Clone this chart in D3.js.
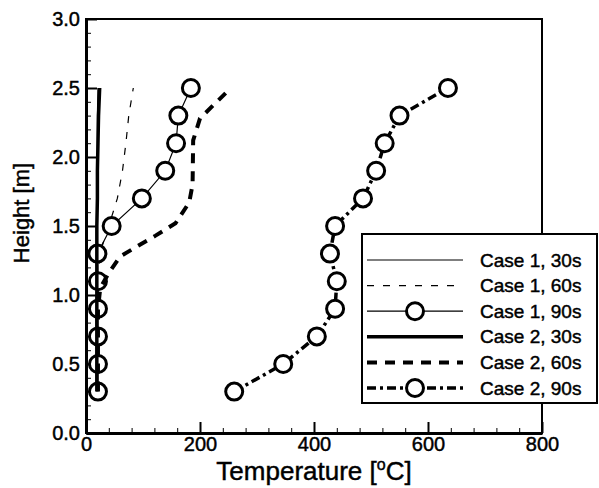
<!DOCTYPE html>
<meta charset="utf-8">
<html>
<head>
<style>
  body { margin: 0; background: #fff; }
  svg text { font-family: "Liberation Sans", Arial, sans-serif; fill: #000; stroke: #000; stroke-width: 0.45px; }
</style>
</head>
<body>
<div id="chart"></div>
<script src="https://d3js.org/d3.v7.min.js"></script>
<script>
// values
let heights = [0.3, 0.5, 0.7, 0.9, 1.1, 1.3, 1.5, 1.7, 1.9, 2.1, 2.3, 2.5];
let case1_30s = [18, 18, 18, 18, 19, 19, 19, 19, 20, 20, 20, 21];
let case1_60s_h = [0.3, 0.9, 1.2, 1.35, 1.5, 1.7, 1.9, 2.1, 2.3, 2.5];
let case1_60s = [20, 20, 22, 28, 40, 55, 64, 70, 75, 83];
let case1_90s = [21, 21, 21, 21, 21, 20, 45, 98, 139, 158, 162, 184];
let case2_30s = [19, 19, 19, 19, 19, 19, 19, 20, 20, 21, 22, 24];
let case2_60s_h = [0.3, 0.9, 1.05, 1.16, 1.28, 1.36, 1.43, 1.52, 1.67, 1.8, 2.12, 2.28, 2.5];
let case2_60s = [21, 21, 25, 40, 60, 93, 122, 157, 181, 187, 188, 200, 254];
let case2_90s = [260, 346, 405, 437, 440, 428, 437, 486, 509, 524, 550, 635];

let xMajor = [0, 200, 400, 600, 800];
let yMajor = [0, 0.5, 1.0, 1.5, 2.0, 2.5, 3.0];

let legendLabels = ['Case 1, 30s', 'Case 1, 60s', 'Case 1, 90s', 'Case 2, 30s', 'Case 2, 60s', 'Case 2, 90s'];

// chart setting
let W = 599, H = 488;
let x = d3.scaleLinear().domain([0, 800]).range([86, 542]);
let y = d3.scaleLinear().domain([0, 3]).range([433, 19]);

let series = [
    {name: legendLabels[0], h: heights, t: case1_30s, width: 1.2, dash: null, marker: false},
    {name: legendLabels[1], h: case1_60s_h, t: case1_60s, width: 1.2, dash: '7,9', marker: false},
    {name: legendLabels[2], h: heights, t: case1_90s, width: 1.2, dash: null, marker: true},
    {name: legendLabels[3], h: heights, t: case2_30s, width: 3.5, dash: null, marker: false},
    {name: legendLabels[4], h: case2_60s_h, t: case2_60s, width: 4, dash: '10,8', marker: false},
    {name: legendLabels[5], h: heights, t: case2_90s, width: 3.5, dash: '9,4,3,4', marker: true}
];

let svg = d3.select('#chart').append('svg')
    .attr('width', W).attr('height', H);

// frame
svg.append('rect')
    .attr('x', x(0)).attr('y', y(3))
    .attr('width', x(800) - x(0)).attr('height', y(0) - y(3))
    .attr('fill', 'none').attr('stroke', '#000').attr('stroke-width', 2);

// x axis: minor then major, ticks pointing in
let xMinor = d3.range(0, 801, 40);
svg.append('g')
    .attr('transform', `translate(0, ${y(0)})`)
    .call(d3.axisBottom(x).tickValues(xMinor).tickSizeInner(-5).tickSizeOuter(0).tickFormat(''))
    .call(g => g.select('.domain').remove());
let xAxis = svg.append('g')
    .attr('transform', `translate(0, ${y(0)})`)
    .call(d3.axisBottom(x).tickValues(xMajor).tickSizeInner(-11).tickSizeOuter(0).tickFormat(d3.format('d')));
xAxis.select('.domain').attr('stroke-width', 3);
xAxis.selectAll('line').attr('stroke-width', 2);
xAxis.selectAll('text').attr('font-size', 20).attr('y', 11).attr('dy', '0.35em');

// y axis
let yMinor = d3.range(0, 31).map(d => d / 10);
svg.append('g')
    .attr('transform', `translate(${x(0)}, 0)`)
    .call(d3.axisLeft(y).tickValues(yMinor).tickSizeInner(-5).tickSizeOuter(0).tickFormat(''))
    .call(g => g.select('.domain').remove());
let yAxis = svg.append('g')
    .attr('transform', `translate(${x(0)}, 0)`)
    .call(d3.axisLeft(y).tickValues(yMajor).tickSizeInner(-11).tickSizeOuter(0).tickFormat(d3.format('.1f')));
yAxis.select('.domain').attr('stroke-width', 3);
yAxis.selectAll('line').attr('stroke-width', 2);
yAxis.selectAll('text').attr('font-size', 20).attr('x', -6);
svg.selectAll('.tick text').attr('font-family', '"Liberation Sans", Arial, sans-serif');

// axis titles
let xt = svg.append('text')
    .attr('x', 314).attr('y', 480)
    .attr('text-anchor', 'middle').attr('font-size', 26);
xt.append('tspan').text('Temperature [');
xt.append('tspan').attr('font-size', 16).attr('dy', -10).text('o');
xt.append('tspan').attr('dy', 10).text('C]');

svg.append('text')
    .attr('transform', 'translate(29, 213) rotate(-90)')
    .attr('text-anchor', 'middle').attr('font-size', 22)
    .text('Height [m]');

// lines
let line = d3.line().x(d => x(d[0])).y(d => y(d[1]));
let plot = svg.append('g');

series.forEach(s => {
    let pts = s.h.map((h, i) => [s.t[i], h]);
    plot.append('path')
        .datum(pts)
        .attr('d', line)
        .attr('fill', 'none')
        .attr('stroke', '#000')
        .attr('stroke-width', s.width)
        .attr('stroke-dasharray', s.dash);
    if (s.marker) {
        plot.selectAll(null).data(pts).enter()
            .append('circle')
            .attr('cx', d => x(d[0])).attr('cy', d => y(d[1]))
            .attr('r', 8.5)
            .attr('fill', '#fff').attr('stroke', '#000').attr('stroke-width', 3);
    }
});

// legend
let legend = svg.append('g');
legend.append('rect')
    .attr('x', 362).attr('y', 234).attr('width', 235).attr('height', 169)
    .attr('fill', '#fff').attr('stroke', '#000').attr('stroke-width', 2);

let rowY = d3.scalePoint().domain(legendLabels).range([260, 388]);
series.forEach(s => {
    let yy = rowY(s.name);
    legend.append('line')
        .attr('x1', 367).attr('x2', 463).attr('y1', yy).attr('y2', yy)
        .attr('stroke', '#000').attr('stroke-width', s.width)
        .attr('stroke-dasharray', s.dash);
    if (s.marker) {
        legend.append('circle')
            .attr('cx', 415).attr('cy', yy).attr('r', 8.5)
            .attr('fill', '#fff').attr('stroke', '#000').attr('stroke-width', 3);
    }
    legend.append('text')
        .attr('x', 480).attr('y', yy).attr('dy', '0.35em')
        .attr('font-size', 19)
        .text(s.name);
});
</script>
</body>
</html>
